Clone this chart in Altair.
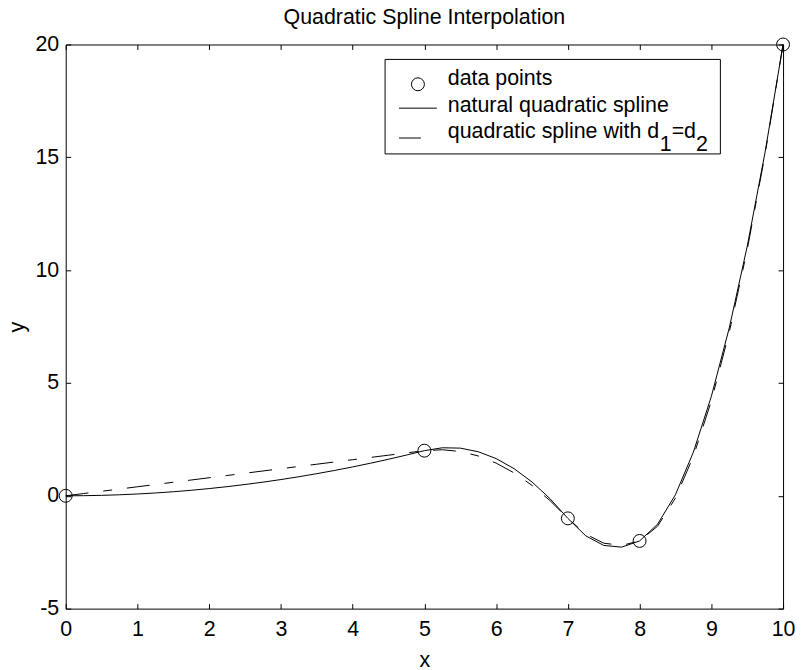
import altair as alt
import pandas as pd

# ---- data ----
knot_x = [0, 5, 7, 8, 10]
knot_y = [0, 2, -1, -2, 20]

curve_x = [0, 0.25, 0.5, 0.75, 1, 1.25, 1.5, 1.75, 2, 2.25, 2.5, 2.75, 3, 3.25, 3.5, 3.75,
           4, 4.25, 4.5, 4.75, 5, 5.25, 5.5, 5.75, 6, 6.25, 6.5, 6.75, 7, 7.25, 7.5, 7.75,
           8, 8.25, 8.5, 8.75, 9, 9.25, 9.5, 9.75, 10]
natural_y = [0, 0.005, 0.02, 0.045, 0.08, 0.125, 0.18, 0.245, 0.32, 0.405, 0.5, 0.605, 0.72,
             0.845, 0.98, 1.125, 1.28, 1.445, 1.62, 1.805, 2.0, 2.128, 2.113, 1.953, 1.65,
             1.203, 0.613, -0.122, -1.0, -1.775, -2.2, -2.275, -2.0, -1.263, 0.05, 1.938,
             4.4, 7.438, 11.05, 15.238, 20]
equal_d_y = [0, 0.1, 0.2, 0.3, 0.4, 0.5, 0.6, 0.7, 0.8, 0.9, 1.0, 1.1, 1.2, 1.3, 1.4, 1.5,
             1.6, 1.7, 1.8, 1.9, 2.0, 2.041, 1.963, 1.766, 1.45, 1.016, 0.463, -0.209, -1.0,
             -1.7, -2.1, -2.2, -2.0, -1.35, -0.1, 1.75, 4.2, 7.25, 10.9, 15.15, 20]

x_ticks = [0, 1, 2, 3, 4, 5, 6, 7, 8, 9, 10]
y_ticks = [-5, 0, 5, 10, 15, 20]

title_text = "Quadratic Spline Interpolation"
legend_labels = ["data points", "natural quadratic spline", "quadratic spline with d", "1", "=d", "2"]

FONT = "Liberation Sans"
FS = 21.5

curves = pd.DataFrame({"x": curve_x, "natural": natural_y, "equal": equal_d_y})
knots = pd.DataFrame({"x": knot_x, "y": knot_y})
one = pd.DataFrame({"k": [0]})

xs = alt.Scale(domain=[0, 10], nice=False, zero=False)
ys = alt.Scale(domain=[-5, 20], nice=False, zero=False)

common = dict(offset=-5, tickSize=5, domain=False, grid=False, tickColor="black",
              labelColor="black", titleColor="black", labelFont=FONT, titleFont=FONT,
              labelFontSize=FS, titleFontSize=FS, titleFontWeight="normal",
              labelFlush=False, labelOverlap=False, labelExpr="'' + datum.value")

x_bottom = alt.Axis(orient="bottom", values=x_ticks, labelPadding=10, title="x",
                    titlePadding=10, **common)
y_left = alt.Axis(orient="left", values=y_ticks, labelPadding=7, title="y",
                  titlePadding=7, **common)
x_top = alt.Axis(orient="top", values=x_ticks, labels=False, title=None, **common)
y_right = alt.Axis(orient="right", values=y_ticks, labels=False, title=None, **common)

natural_line = alt.Chart(curves).mark_line(color="black", strokeWidth=1).encode(
    x=alt.X("x:Q", scale=xs, axis=x_bottom),
    y=alt.Y("natural:Q", scale=ys, axis=y_left),
)
dashed_line = alt.Chart(curves).mark_line(color="black", strokeWidth=1,
                                          strokeDash=[23, 15, 9, 15]).encode(
    x=alt.X("x:Q", scale=xs, axis=None),
    y=alt.Y("equal:Q", scale=ys, axis=None),
)
points = alt.Chart(knots).mark_point(shape="circle", filled=False, color="black",
                                     size=169, strokeWidth=1, opacity=1).encode(
    x=alt.X("x:Q", scale=xs, axis=x_top),
    y=alt.Y("y:Q", scale=ys, axis=y_right),
)

# ---- hand-built legend box (MATLAB style) ----
leg_box = alt.Chart(one).mark_rect(fill="white", stroke="black", strokeWidth=1).encode(
    x=alt.value(321), x2=alt.value(658), y=alt.value(15), y2=alt.value(110))
leg_circle = alt.Chart(one).mark_point(shape="circle", filled=False, color="black",
                                       size=169, strokeWidth=1, opacity=1).encode(
    x=alt.value(354), y=alt.value(40))
leg_solid = alt.Chart(one).mark_rule(color="black", strokeWidth=1).encode(
    x=alt.value(335), x2=alt.value(373), y=alt.value(64))
leg_dash = alt.Chart(one).mark_rule(color="black", strokeWidth=1,
                                    strokeDash=[23, 15, 9, 15]).encode(
    x=alt.value(335), x2=alt.value(357), y=alt.value(94))

text_pos = [(384, 41), (384, 68), (384, 94), (597, 107.5), (609, 94), (633.5, 107.5)]
leg_texts = []
for label, (tx, ty) in zip(legend_labels, text_pos):
    leg_texts.append(
        alt.Chart(one).mark_text(font=FONT, fontSize=FS, color="black", align="left",
                                 baseline="alphabetic").encode(
            x=alt.value(tx), y=alt.value(ty), text=alt.value(label))
    )

chart = alt.layer(natural_line, dashed_line, points, leg_box, leg_circle, leg_solid,
                  leg_dash, *leg_texts).resolve_axis(
    x="independent", y="independent"
).properties(
    width=721, height=567,
    title=alt.TitleParams(title_text, font=FONT, fontSize=FS, fontWeight="normal",
                          color="black", offset=5, anchor="middle"),
    autosize=alt.AutoSizeParams(type="none"),
    padding={"left": 58, "top": 35, "right": 12, "bottom": 58},
    background="white",
).configure_view(stroke="black", strokeWidth=1)

chart.save("out.html", embed_options={"renderer": "svg", "actions": False})
